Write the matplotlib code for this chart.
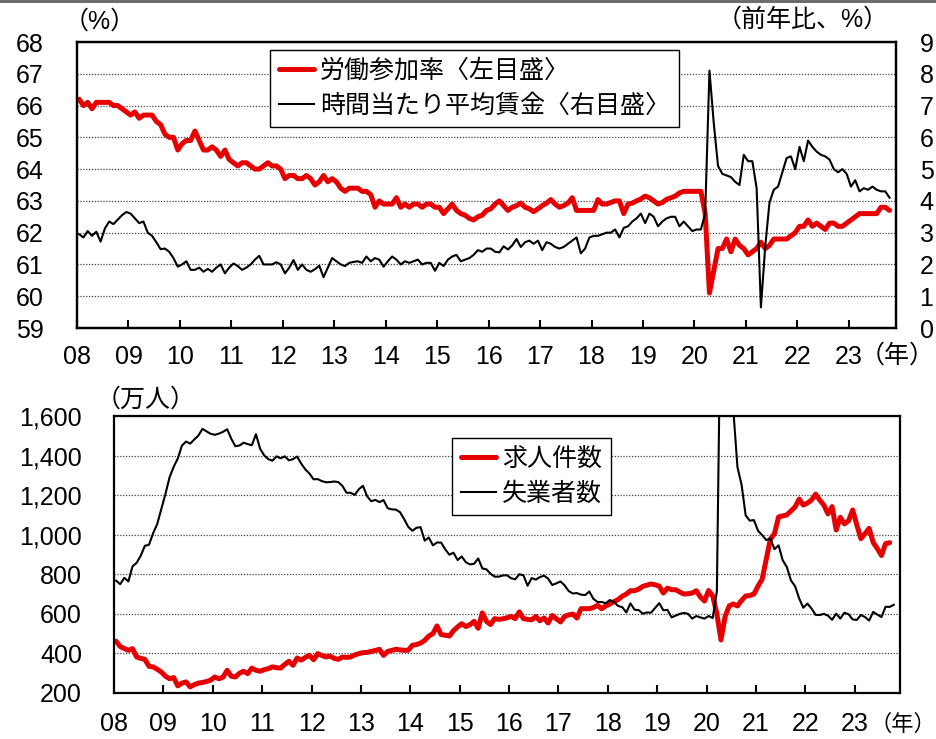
import numpy as np
import matplotlib
matplotlib.use('Agg')
import matplotlib.pyplot as plt
from matplotlib.patches import Rectangle

plt.rcParams['font.family'] = ['Liberation Sans', 'Noto Sans CJK JP']
plt.rcParams['font.size'] = 18

RED = '#e60000'

years = list(range(2008, 2024))
year_labels = ['%02d' % (y % 100) for y in years]

# labour force participation rate (%), monthly Jan 2008 - Oct 2023
participation = [
    66.2, 66.0, 66.1, 65.9, 66.1, 66.1, 66.1, 66.1, 66.0, 66.0, 65.9, 65.8,
    65.7, 65.8, 65.6, 65.7, 65.7, 65.7, 65.5, 65.4, 65.1, 65.0, 65.0, 64.6,
    64.8, 64.9, 64.9, 65.2, 64.9, 64.6, 64.6, 64.7, 64.6, 64.4, 64.6, 64.3,
    64.2, 64.1, 64.2, 64.2, 64.1, 64.0, 64.0, 64.1, 64.2, 64.1, 64.1, 64.0,
    63.7, 63.8, 63.8, 63.7, 63.7, 63.8, 63.7, 63.5, 63.6, 63.8, 63.6, 63.7,
    63.6, 63.4, 63.3, 63.4, 63.4, 63.4, 63.3, 63.3, 63.2, 62.8, 63.0, 62.9,
    62.9, 62.9, 63.1, 62.8, 62.9, 62.8, 62.9, 62.9, 62.8, 62.9, 62.9, 62.8,
    62.8, 62.6, 62.75, 62.9, 62.7, 62.6, 62.55, 62.45, 62.4, 62.5, 62.55, 62.7,
    62.75, 62.9, 63.0, 62.85, 62.7, 62.8, 62.85, 62.93, 62.8, 62.75, 62.66, 62.75,
    62.85, 62.93, 63.04, 62.9, 62.8, 62.85, 62.93, 63.1, 62.7, 62.7, 62.7, 62.7,
    62.7, 63.04, 62.9, 62.9, 62.95, 63.0, 63.0, 62.6, 62.9, 62.93, 63.0, 63.06,
    63.15, 63.1, 63.0, 62.9, 62.95, 63.05, 63.1, 63.15, 63.25, 63.3, 63.3, 63.3,
    63.3, 63.3, 62.6, 60.1, 60.8, 61.5, 61.5, 61.8, 61.4, 61.8, 61.6, 61.5,
    61.3, 61.4, 61.5, 61.7, 61.5, 61.6, 61.8, 61.8, 61.8, 61.8, 61.9, 62.0,
    62.2, 62.2, 62.4, 62.2, 62.3, 62.2, 62.1, 62.3, 62.3, 62.2, 62.2, 62.3,
    62.4, 62.5, 62.6, 62.6, 62.6, 62.6, 62.6, 62.8, 62.8, 62.7,
]

# average hourly earnings, y/y (%), monthly Jan 2008 - Oct 2023
wage_growth = [
    2.95, 2.85, 3.05, 2.9, 3.03, 2.72, 3.13, 3.35, 3.27, 3.41, 3.55, 3.65,
    3.6, 3.45, 3.3, 3.35, 3.0, 2.9, 2.7, 2.48, 2.5, 2.4, 2.2, 1.93,
    2.0, 2.1, 1.83, 1.83, 1.9, 1.77, 1.86, 1.77, 1.9, 2.0, 1.72, 1.9,
    2.03, 1.95, 1.83, 1.9, 2.0, 2.15, 2.27, 2.0, 2.0, 2.0, 2.07, 2.0,
    1.72, 1.9, 2.14, 1.83, 2.0, 1.83, 1.77, 1.85, 1.96, 1.6, 1.9, 2.2,
    2.1, 2.0, 1.95, 2.05, 2.08, 2.1, 2.05, 2.25, 2.1, 2.2, 2.15, 1.93,
    2.1, 2.25, 2.15, 2.0, 2.1, 2.05, 2.1, 2.15, 2.0, 2.05, 2.05, 1.8,
    2.05, 1.95, 2.15, 2.25, 2.3, 2.1, 2.15, 2.2, 2.3, 2.45, 2.4, 2.5,
    2.5, 2.4, 2.38, 2.57, 2.47, 2.6, 2.8, 2.55, 2.7, 2.75, 2.65, 2.75,
    2.45, 2.7, 2.65, 2.55, 2.5, 2.55, 2.65, 2.75, 2.85, 2.35, 2.5, 2.85,
    2.9, 2.9, 2.95, 3.0, 3.0, 3.1, 2.85, 3.15, 3.2, 3.35, 3.45, 3.6,
    3.3, 3.6, 3.5, 3.2, 3.35, 3.45, 3.5, 3.5, 3.2, 3.35, 3.2, 3.05,
    3.1, 3.1, 3.6, 8.1, 6.45, 5.1, 4.85, 4.8, 4.75, 4.6, 4.5, 5.45,
    5.25, 5.25, 4.4, 0.65, 2.55, 3.95, 4.35, 4.45, 4.9, 5.35, 5.4, 5.0,
    5.7, 5.25, 5.9, 5.7, 5.55, 5.45, 5.4, 5.3, 5.0, 4.9, 5.0, 4.85,
    4.45, 4.65, 4.3, 4.4, 4.35, 4.45, 4.35, 4.3, 4.3, 4.1,
]

# job openings (10 thousand), monthly Jan 2008 - Sep 2023
openings = [
    462, 435, 425, 416, 424, 382, 375, 370, 335, 332, 320, 306,
    285, 272, 278, 236, 250, 256, 231, 242, 250, 253, 258, 265,
    281, 272, 280, 315, 285, 281, 300, 310, 298, 326, 315, 310,
    318, 323, 332, 328, 326, 345, 360, 340, 377, 366, 380, 390,
    368, 399, 390, 382, 387, 375, 370, 382, 380, 382, 392, 399,
    404, 405, 410, 415, 421, 390, 410, 415, 421, 418, 416, 416,
    441, 445, 452, 466, 488, 500, 539, 495, 492, 488, 515, 534,
    550, 536, 545, 562, 527, 605, 562, 546, 576, 572, 575, 580,
    587, 576, 610, 576, 572, 570, 587, 565, 579, 554, 592, 575,
    559, 587, 595, 599, 579, 626, 626, 626, 632, 643, 626, 640,
    650, 662, 672, 689, 700, 717, 717, 725, 739, 745, 751, 747,
    740, 705, 730, 722, 722, 710, 700, 702, 705, 717, 685, 665,
    718, 690, 600, 468, 586, 640, 650, 640, 668, 690, 693, 700,
    740, 775, 875, 977, 1006, 1090, 1095, 1100, 1120, 1140, 1180, 1150,
    1160, 1175, 1205, 1175, 1150, 1105, 1142, 1024, 1088, 1055, 1070, 1125,
    1050, 980, 1005, 1032, 960, 930, 895, 955, 960,
]

# unemployed persons (10 thousand), monthly Jan 2008 - Oct 2023
unemployed = [
    768, 750, 782, 764, 840, 858, 894, 944, 949, 1007, 1054, 1129,
    1206, 1290, 1343, 1385, 1450, 1471, 1460, 1481, 1501, 1535, 1522, 1510,
    1505, 1511, 1520, 1533, 1485, 1447, 1451, 1465, 1458, 1452, 1508, 1435,
    1401, 1382, 1374, 1396, 1386, 1396, 1376, 1382, 1395, 1359, 1330, 1309,
    1280, 1281, 1271, 1265, 1266, 1269, 1266, 1247, 1212, 1212, 1201, 1230,
    1247, 1195, 1169, 1176, 1165, 1175, 1134, 1128, 1127, 1114, 1079, 1040,
    1020, 1035, 1038, 970, 986, 946, 961, 960, 926, 899, 909, 872,
    890, 861, 850, 853, 880, 830, 825, 803, 788, 788, 794, 795,
    780, 775, 800, 795, 742, 781, 773, 786, 793, 778, 746, 754,
    764, 744, 715, 703, 705, 697, 695, 713, 676, 660, 660, 654,
    670, 659, 640, 634, 607, 653, 621, 619, 601, 607, 606, 630,
    654, 618, 620, 582, 591, 600, 605, 600, 576, 589, 582, 576,
    589, 579, 714, 2308, 2099, 1770, 1631, 1342, 1253, 1098, 1071, 1074,
    1020, 998, 973, 981, 927, 946, 871, 837, 769, 740, 678, 631,
    652, 627, 595, 594, 600, 591, 570, 601, 576, 606, 598, 572,
    569, 594, 584, 566, 610, 596, 584, 636, 635, 646,
]


def month_axis(n):
    # plotted at mid-month
    return 2008 + (np.arange(n) + 0.5) / 12


W, H = 936, 739
fig = plt.figure(figsize=(W / 100, H / 100), dpi=100)


def frac(x0, y0, x1, y1):
    return [x0 / W, 1 - y1 / H, (x1 - x0) / W, (y1 - y0) / H]


def style_axes(ax):
    for s in ax.spines.values():
        s.set_linewidth(1.6)
        s.set_color('black')
    ax.set_xlim(2008, 2023.917)
    ax.set_xticks(years)
    ax.set_xticklabels(year_labels)
    ax.yaxis.grid(True, linestyle=(0, (1, 1.3)), color='#444444', linewidth=0.9)
    ax.set_axisbelow(True)


# ---- top panel ----
ax1 = fig.add_axes(frac(77, 42, 896, 328))
style_axes(ax1)
ax1.set_ylim(59, 68)
ax1.set_yticks(range(59, 69))
ax1.tick_params(axis='x', direction='in', length=5.5, width=1.5, pad=12)
ax1.tick_params(axis='y', length=0, pad=24)
l1, = ax1.plot(month_axis(len(participation)), participation, color=RED, lw=3.6,
               solid_capstyle='round', label='労働参加率〈左目盛〉')

ax2 = ax1.twinx()
ax2.set_ylim(0, 9)
ax2.set_yticks(range(0, 10))
ax2.tick_params(axis='y', length=0, pad=17)
for s in ax2.spines.values():
    s.set_linewidth(1.6)
l2, = ax2.plot(month_axis(len(wage_growth)), wage_growth, color='black', lw=1.5,
               label='時間当たり平均賃金〈右目盛〉')

fig.legend(handles=[l1, l2], loc='upper left', bbox_to_anchor=(270 / W, 1 - 50 / H),
           bbox_transform=fig.transFigure, borderaxespad=0, fancybox=False,
           edgecolor='black', framealpha=1, handlelength=1.4, handletextpad=0.25,
           labelspacing=0.45, borderpad=0.35, fontsize=18).get_frame().set_linewidth(1.0)

fig.text(100 / W, 1 - 22 / H, '（%）', ha='center', va='center')
fig.text(803 / W, 1 - 20 / H, '（前年比、%）', ha='center', va='center')
fig.text(935 / W, 1 - 356 / H, '（年）', ha='right', va='center')

# ---- bottom panel ----
ax3 = fig.add_axes(frac(114, 416, 900, 693))
style_axes(ax3)
ax3.set_ylim(200, 1600)
ax3.set_yticks(range(200, 1601, 200))
ax3.set_yticklabels(['{:,}'.format(v) for v in range(200, 1601, 200)])
ax3.tick_params(axis='x', direction='in', length=5.5, width=1.5, pad=13.5)
ax3.tick_params(axis='y', length=0, pad=23)
l3, = ax3.plot(month_axis(len(openings)), openings, color=RED, lw=3.6,
               solid_capstyle='round', label='求人件数')
l4, = ax3.plot(month_axis(len(unemployed)), unemployed, color='black', lw=1.5,
               label='失業者数')

fig.legend(handles=[l3, l4], loc='upper left', bbox_to_anchor=(452 / W, 1 - 438 / H),
           bbox_transform=fig.transFigure, borderaxespad=0, fancybox=False,
           edgecolor='black', framealpha=1, handlelength=1.4, handletextpad=0.25,
           labelspacing=0.45, borderpad=0.35, fontsize=18).get_frame().set_linewidth(1.0)

fig.text(146 / W, 1 - 400 / H, '（万人）', ha='center', va='center')
fig.text(936 / W, 1 - 725 / H, '（年）', ha='right', va='center', fontsize=16)

# grey rule along the top edge
fig.add_artist(Rectangle((0, 1 - 3 / H), 1, 3 / H, transform=fig.transFigure,
                         color='#6d6d6d', lw=0))

fig.savefig('out.png', dpi=100)
